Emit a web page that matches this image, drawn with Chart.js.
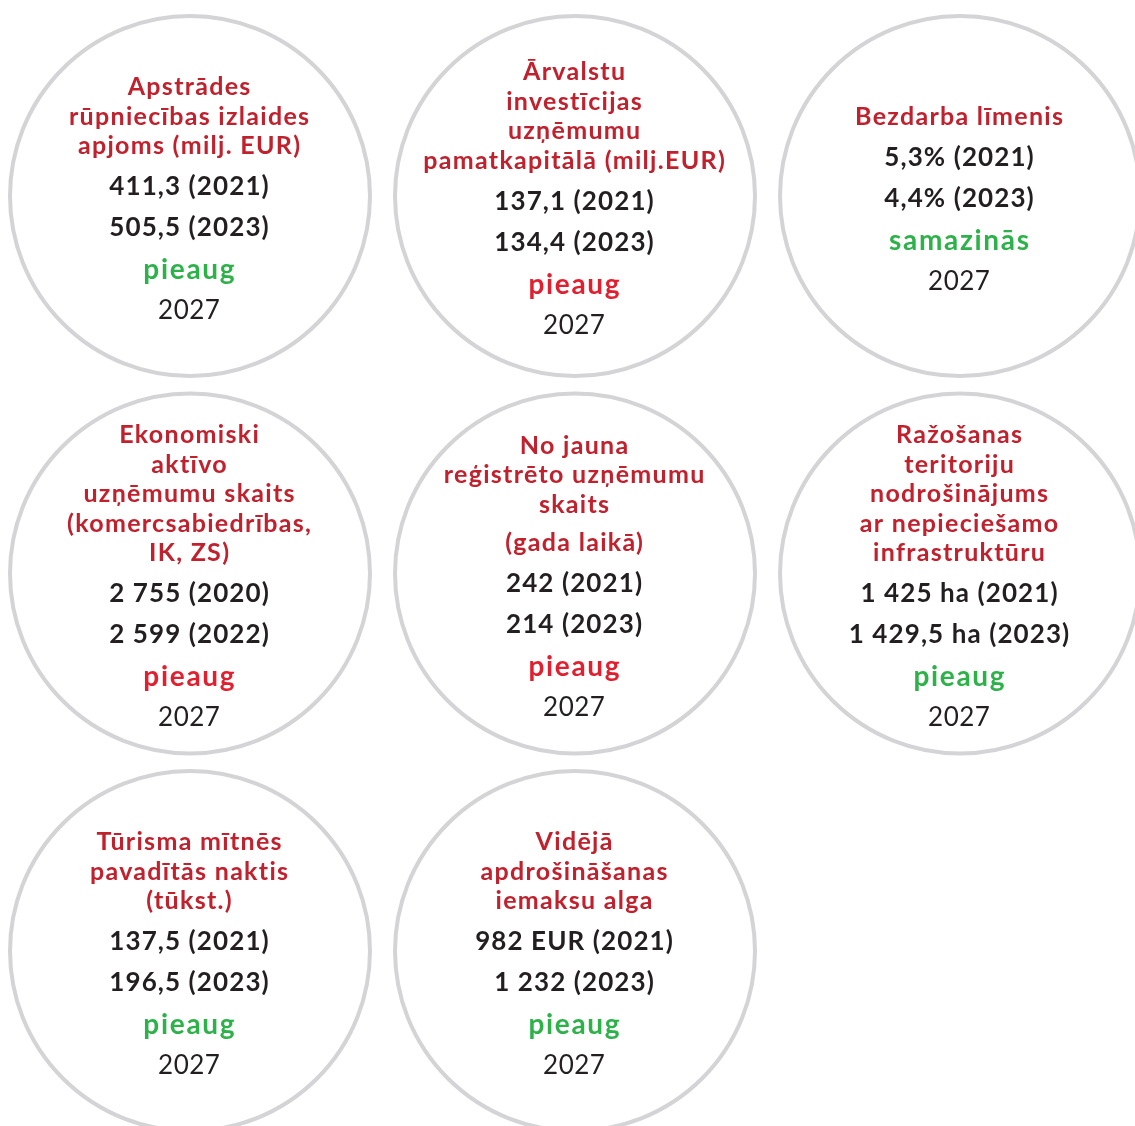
<!DOCTYPE html>
<html>
<head>
<meta charset="utf-8">
<script src="https://cdn.jsdelivr.net/npm/chart.js@4.4.1/dist/chart.umd.min.js"></script>
<style>
  html, body { margin: 0; padding: 0; background: #ffffff; }
  #wrap { width: 1135px; height: 1126px; position: relative; }
</style>
</head>
<body>
<div id="wrap"><canvas id="indicators"></canvas></div>
<script>
// indicator titles (one entry per circle, split in lines as printed)
var titles = [
  ['Apstrādes', 'rūpniecības izlaides', 'apjoms (milj. EUR)'],
  ['Ārvalstu', 'investīcijas', 'uzņēmumu', 'pamatkapitālā (milj.EUR)'],
  ['Bezdarba līmenis'],
  ['Ekonomiski', 'aktīvo', 'uzņēmumu skaits', '(komercsabiedrības,', 'IK, ZS)'],
  ['No jauna', 'reģistrēto uzņēmumu', 'skaits'],
  ['Ražošanas', 'teritoriju', 'nodrošinājums', 'ar nepieciešamo', 'infrastruktūru'],
  ['Tūrisma mītnēs', 'pavadītās naktis', '(tūkst.)'],
  ['Vidējā', 'apdrošināšanas', 'iemaksu alga']
];
var notes = ['', '', '', '', '(gada laikā)', '', '', ''];
var baseValues = ['411,3 (2021)', '137,1 (2021)', '5,3% (2021)', '2 755 (2020)',
                  '242 (2021)', '1 425 ha (2021)', '137,5 (2021)', '982 EUR (2021)'];
var latestValues = ['505,5 (2023)', '134,4 (2023)', '4,4% (2023)', '2 599 (2022)',
                    '214 (2023)', '1 429,5 ha (2023)', '196,5 (2023)', '1 232 (2023)'];
var targets = ['pieaug', 'pieaug', 'samazinās', 'pieaug', 'pieaug', 'pieaug', 'pieaug', 'pieaug'];
// true = trend is on track (green), false = off track (red)
var onTrack = [true, false, true, false, false, true, true, true];
var targetYears = ['2027', '2027', '2027', '2027', '2027', '2027', '2027', '2027'];

// grid slot of each circle
var gridCol = [0, 1, 2, 0, 1, 2, 0, 1];
var gridRow = [0, 0, 0, 1, 1, 1, 2, 2];

var FONT = 'Lato, "Open Sans", sans-serif';
var TITLE_RED = '#c1202d';
var BAD_RED = '#e21f2e';
var GOOD_GREEN = '#2db24a';
var INK = '#231f20';

var textPlugin = {
  id: 'circleText',
  afterDatasetsDraw: function (chart) {
    var ctx = chart.ctx;
    var meta = chart.getDatasetMeta(0);
    meta.data.forEach(function (el, i) {
      var lines = [];
      titles[i].forEach(function (t, k) {
        lines.push({ text: t, font: 'bold 25px ' + FONT, spacing: 1.3, color: TITLE_RED, gap: k === 0 ? 0 : 29.5 });
      });
      if (notes[i]) {
        lines.push({ text: notes[i], font: 'bold 25px ' + FONT, spacing: 1.3, color: TITLE_RED, gap: 38 });
      }
      lines.push({ text: baseValues[i], font: 'bold 26px ' + FONT, spacing: 1.1, color: INK, gap: 41 });
      lines.push({ text: latestValues[i], font: 'bold 26px ' + FONT, spacing: 1.1, color: INK, gap: 41 });
      lines.push({ text: targets[i], font: 'bold 28px ' + FONT, spacing: 1.7, color: onTrack[i] ? GOOD_GREEN : BAD_RED, gap: 42 });
      lines.push({ text: targetYears[i], font: '26px ' + FONT, spacing: 0.5, color: INK, gap: 41 });

      var total = 0;
      lines.forEach(function (l) { total += l.gap; });
      var y = el.y + 3 - total / 2;

      ctx.save();
      ctx.textAlign = 'center';
      ctx.textBaseline = 'middle';
      lines.forEach(function (l) {
        y += l.gap;
        ctx.font = l.font;
        ctx.letterSpacing = l.spacing + 'px';
        ctx.fillStyle = l.color;
        ctx.fillText(l.text, el.x - 1 + l.spacing / 2, y);
      });
      ctx.restore();
    });
  }
};

var points = gridCol.map(function (c, i) {
  return { x: c, y: gridRow[i], r: 180 };
});

new Chart(document.getElementById('indicators'), {
  type: 'bubble',
  data: {
    datasets: [{
      data: points,
      backgroundColor: '#ffffff',
      borderColor: '#d4d4d6',
      borderWidth: 4,
      hoverRadius: 0,
      hoverBorderWidth: 4,
      clip: false
    }]
  },
  options: {
    responsive: true,
    maintainAspectRatio: false,
    animation: false,
    events: [],
    layout: { padding: 0, autoPadding: false },
    plugins: {
      legend: { display: false },
      tooltip: { enabled: false }
    },
    scales: {
      x: { type: 'linear', display: false, min: -0.4935, max: 2.4545 },
      y: { type: 'linear', display: false, reverse: true, min: -0.5192, max: 2.4636 }
    }
  },
  plugins: [textPlugin]
});
</script>
</body>
</html>
